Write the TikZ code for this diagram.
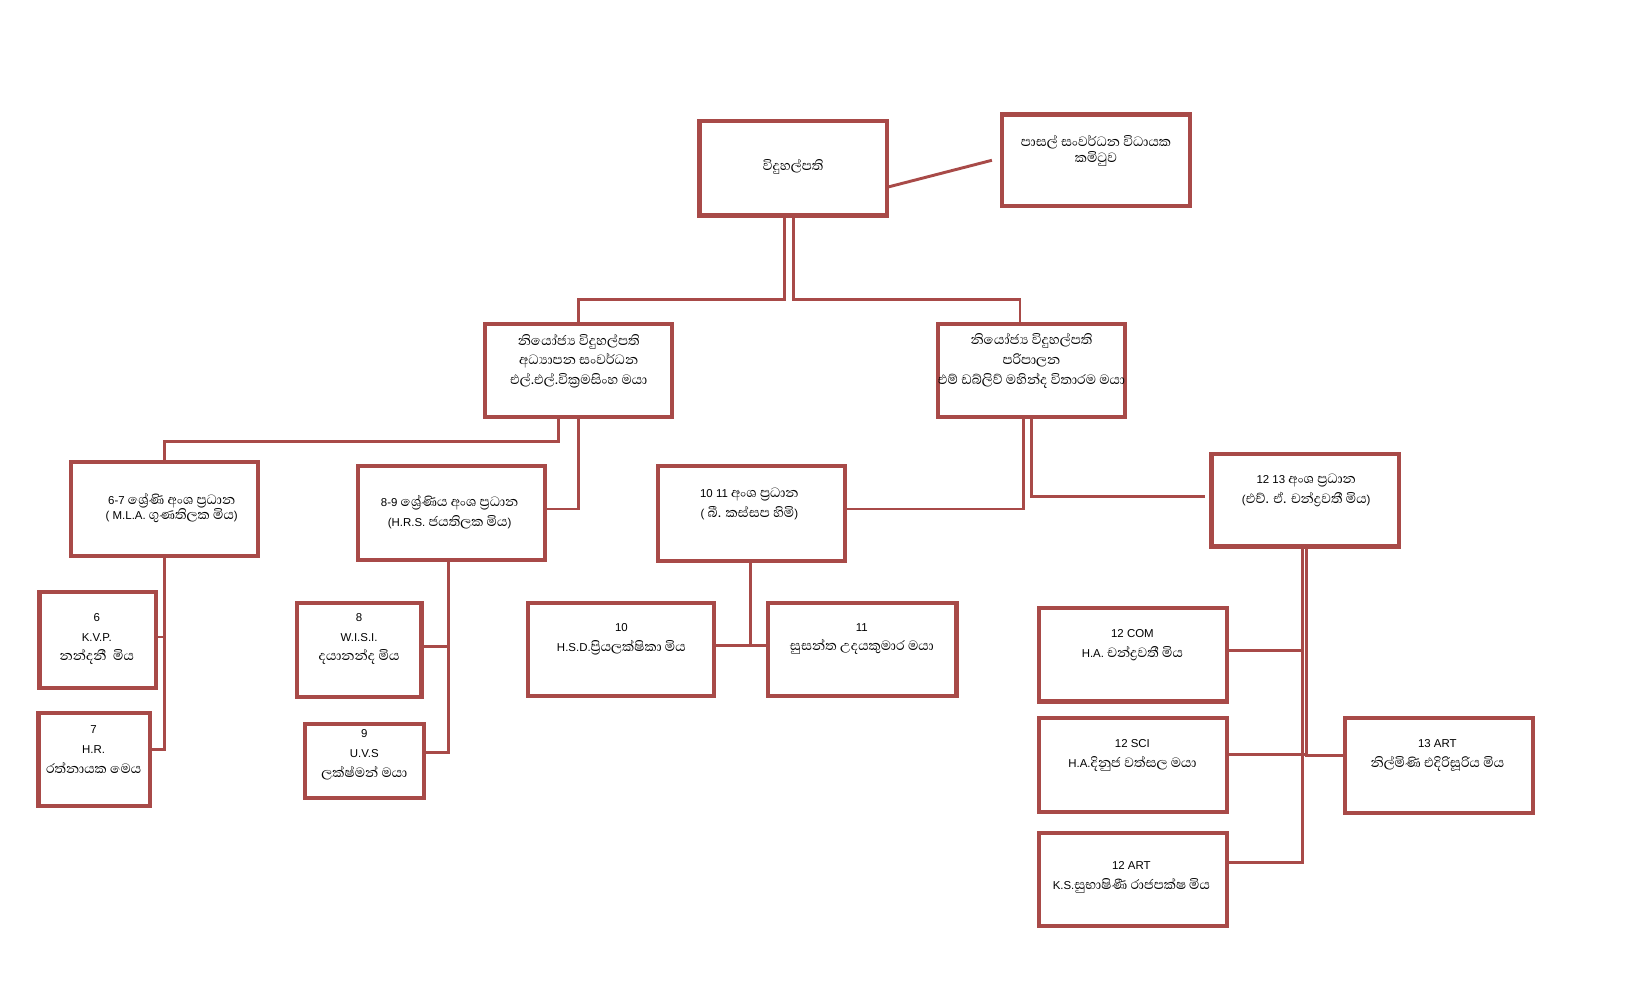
\documentclass[tikz,border=0pt]{standalone}
\usepackage{fontspec}
\setmainfont{Liberation Sans}
\newfontfamily\sinhalafont[Script=Sinhala,Scale=1.5]{Abhaya Libre}
\newcommand\snh[1]{{\sinhalafont #1}}
\usetikzlibrary{calc,shadows}
\definecolor{boxred}{RGB}{168,74,72}
\tikzset{
  box/.style={draw=boxred, line width=2pt, fill=white, inner sep=0pt, outer sep=0pt,
    drop shadow={shadow xshift=0.8pt, shadow yshift=-1pt, opacity=0.25}},
  txt/.style={align=center, font=\fontsize{5.5}{9.5}\selectfont, inner sep=0pt},
  link/.style={draw=boxred, line width=1.4pt},
}
\begin{document}
\begin{tikzpicture}[x=0.5pt, y=-0.5pt]
	\useasboundingbox[fill=white] (0,0) rectangle (1568,968);
	% boxes: name/x/y/width/height
	\foreach \n/\x/\y/\w/\h in {p/762/161.5/180/91, com/1053/154/180/88,
		d1/556/356/180/90, d2/991/356/180/90,
		g67/158/489/180/90, g89/434/493/180/90, g1011/722/493.5/180/91, g1213/1254/480.5/180/89,
		c6/94/615/112/92, c7/90.5/729.5/107/89, c8/345/624.5/120/91, c9/350/731.5/114/71,
		c10/596.5/624/179/90, c11/828.5/624/181/90,
		com12/1088.5/629/181/90, sci12/1088.5/735/181/90, art12/1088.5/845/181/90, art13/1382.5/735.5/181/91}{
		\node[box, minimum width=\w*0.5pt, minimum height=\h*0.5pt] (\n) at (\x,\y) {};
	}
	% texts
	\node[txt] (p-t) at (762,160) {\snh{විදුහල්පති}};
	\node[txt] (com-t) at (1053,145) {\snh{පාසල් සංවර්ධන විධායක}\\[-2pt]\snh{කමිටුව}};
	\node[txt] (d1-t) at (556,347) {\snh{නියෝජ්^^^^200dය විදුහල්පති}\\\snh{අධ්^^^^200dයාපන සංවර්ධන}\\\snh{එල්.එල්.වික්^^^^200dරමසිංහ මයා}};
	\node[txt] (d2-t) at (991,347) {\snh{නියෝජ්^^^^200dය විදුහල්පති}\\\snh{පරිපාලන}\\\snh{එම් ඩබ්ලිව් මහින්ද විතාරම මයා}};
	\node[txt] (g67-t) at (165,488) {6-7 \snh{ශ්^^^^200dරේණි අංශ ප්^^^^200dරධාන}\\[-2.5pt]( M.L.A. \snh{ගුණතිලක මිය})};
	\node[txt] (g89-t) at (432,492) {8-9 \snh{ශ්^^^^200dරේණිය අංශ ප්^^^^200dරධාන}\\(H.R.S. \snh{ජයතිලක මිය})};
	\node[txt] (g1011-t) at (720,484) {10 11 \snh{අංශ ප්^^^^200dරධාන}\\( \snh{බී. කස්සප හිමි})};
	\node[txt] (g1213-t) at (1255,471) {12 13 \snh{අංශ ප්^^^^200dරධාන}\\(\snh{එච්. ඒ. චන්ද්^^^^200dරවතී මිය})};
	\node[txt] (c6-t) at (93,614) {6\\K.V.P.\\\snh{නන්දනී\ \ මිය}};
	\node[txt] (c7-t) at (90,720) {7\\H.R.\\\snh{රත්නායක මෙය}};
	\node[txt] (c8-t) at (345,614) {8\\W.I.S.I.\\\snh{දයානන්ද මිය}};
	\node[txt] (c9-t) at (350,725) {9\\U.V.S\\\snh{ලක්ෂ්මන් මයා}};
	\node[txt] (c10-t) at (597,614) {10\\H.S.D.\snh{ප්^^^^200dරියලක්ෂිකා මිය}};
	\node[txt] (c11-t) at (828,614) {11\\\snh{සුසන්ත උදයකුමාර මයා}};
	\node[txt] (com12-t) at (1088,620) {12 COM\\H.A. \snh{චන්ද්^^^^200dරවතී මිය}};
	\node[txt] (sci12-t) at (1088,726) {12 SCI\\H.A.\snh{දිනුජ වත්සල මයා}};
	\node[txt] (art12-t) at (1087,843) {12 ART\\K.S.\snh{සුභාෂිණී රාජපක්ෂ මිය}};
	\node[txt] (art13-t) at (1381,726) {13 ART\\\snh{නිල්මිණි එදිරිසූරිය මිය}};
	% connectors
	\draw[link] ($(p.east)+(0,18.5)$) -- ($(com.west)+(-10,0)$);
	\draw[link] ($(p.south)+(-8,0)$) -- ++(0,81) -| (d1.north);
	\draw[link] (p.south) -- ++(0,81) -| ($(d2.north)+(-11,0)$);
	\draw[link] ($(d1.south)+(-19,0)$) -- ++(0,23) -| (g67.north);
	\draw[link] (d1.south) |- ($(g89.east)+(0,-4)$);
	\draw[link] ($(d2.south)+(-8,0)$) |- ($(g1011.east)+(0,-4.5)$);
	\draw[link] (d2.south) |- ($(g1213.west)+(-6,-3.5)$);
	\draw[link] (g67.south) |- ($(c6.east)+(0,-3)$);
	\draw[link] (g67.south) |- ($(c7.east)+(0,-9.5)$);
	\draw[link] ($(g89.south)+(-3,0)$) |- ($(c8.east)+(0,-3.5)$);
	\draw[link] ($(g89.south)+(-3,0)$) |- ($(c9.east)+(0,-8.5)$);
	\draw[link] ($(c10.east)+(0,-4)$) -- ($(c11.west)+(0,-4)$);
	\draw[link] ($(g1011.south)+(-1,0)$) -- ($(g1011.south |- c10.east)+(-1,-4)$);
	\draw[link] ($(g1213.south)+(-3,0)$) |- ($(com12.east)+(0,-4)$);
	\draw[link] ($(g1213.south)+(-3,0)$) |- ($(art12.east)+(0,-16)$);
	\draw[link] ($(g1213.south)+(1,0)$) |- ($(sci12.east)+(0,-10)$);
	\draw[link] ($(g1213.south)+(1,0)$) |- ($(art13.west)+(0,-9.5)$);
\end{tikzpicture}
\end{document}
